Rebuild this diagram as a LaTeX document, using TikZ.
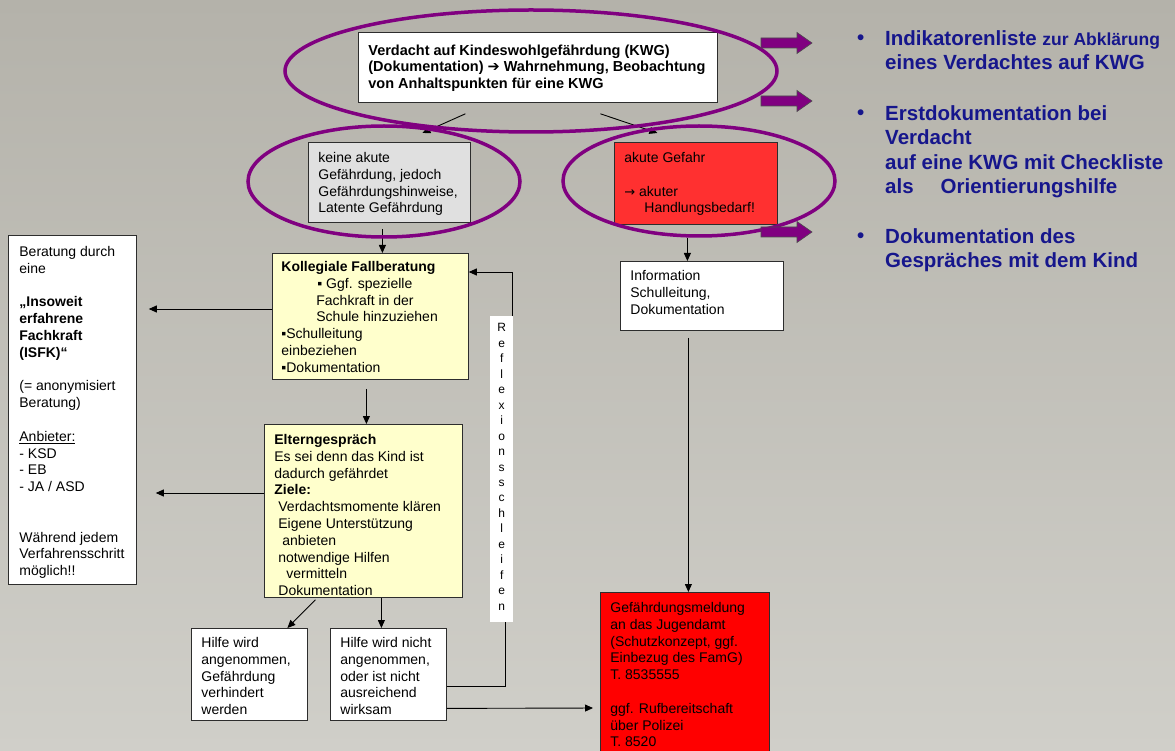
\documentclass[tikz,border=0pt]{standalone}
\usepackage{fontspec}
\setmainfont{Liberation Sans}
\newfontfamily\symfont{DejaVu Sans}
\usetikzlibrary{positioning,calc,arrows.meta}

\definecolor{kwgpurple}{RGB}{128,0,128}
\definecolor{kwgblue}{RGB}{22,22,140}
\definecolor{notered}{RGB}{255,48,48}
\definecolor{alarmred}{RGB}{255,0,0}
\definecolor{noteyellow}{RGB}{255,255,204}
\definecolor{notegrey}{RGB}{224,224,224}
\definecolor{bgtop}{RGB}{180,178,170}
\definecolor{bgbottom}{RGB}{208,207,201}
\definecolor{frame}{RGB}{45,45,45}

\newcommand{\bxfont}{\fontsize{14}{16.8}\selectfont}
\newcommand{\itemfont}{\bfseries\fontsize{20.5}{24.5}\selectfont}
\newcommand{\boxtxt}[5]{\parbox[c][#2pt][t]{#1pt}{\raggedright\setlength{\leftskip}{#4pt}\vspace*{#3pt}#5}}

\begin{document}
\begin{tikzpicture}[x=1pt,y=-1pt,
	box/.style={draw=frame,line width=0.8pt,anchor=north west,inner sep=0pt,font=\bxfont},
	line/.style={draw=black,line width=0.9pt},
	arr/.style={line,-{Triangle[length=8pt,width=7pt]}},
	ring/.style={draw=kwgpurple,line width=3.5pt},
	pointer/.style={fill=kwgpurple,draw=black!70,line width=0.6pt},
	item/.style={anchor=north west,inner sep=0pt,align=left,text=kwgblue,font=\itemfont},
	dot/.style={anchor=base west,inner sep=0pt,text=kwgblue,font=\itemfont}]
				\shade[top color=bgtop,bottom color=bgbottom] (0,0) rectangle (1175,751);
				\useasboundingbox (0,0) rectangle (1175,751);
				\node[box,fill=white] (kwg) at (358,32) {\boxtxt{359}{70}{12.5}{10}{\bfseries\fontsize{14.5}{16.5}\selectfont Verdacht auf Kindeswohlgefährdung (KWG)\\(Dokumentation) {\symfont ➔} Wahrnehmung, Beobachtung\\von Anhaltspunkten für eine KWG}};
				\node[box,fill=notegrey] (keine) at (308,142) {\boxtxt{162}{80}{10}{10}{keine akute\\Gefährdung, jedoch\\Gefährdungshinweise,\\Latente Gefährdung}};
				\node[box,fill=notered] (akute) at (614,142) {\boxtxt{163}{82}{10}{10}{akute Gefahr\\[16.8pt]{\symfont\fontsize{13}{16.8}\selectfont →} akuter\\\hspace*{20pt}Handlungsbedarf!}};
				\node[box,fill=noteyellow] (koll) at (272,253) {\boxtxt{196}{126}{8}{9}{\textbf{Kollegiale Fallberatung}\\\hspace*{36pt}▪ Ggf. spezielle\\\hspace*{35pt}Fachkraft in der\\\hspace*{35pt}Schule hinzuziehen\\▪Schulleitung\\einbeziehen\\▪Dokumentation}};
				\node[box,fill=noteyellow] (eltern) at (264,424) {\boxtxt{198}{173}{10}{10}{\textbf{Elterngespräch}\\Es sei denn das Kind ist\\dadurch gefährdet\\\textbf{Ziele:}\\\hspace*{4pt}Verdachtsmomente klären\\\hspace*{4pt}Eigene Unterstützung\\\hspace*{8pt}anbieten\\\hspace*{4pt}notwendige Hilfen\\\hspace*{12pt}vermitteln\\\hspace*{4pt}Dokumentation}};
				\node[box,fill=white] (beratung) at (8,235) {\boxtxt{128}{349}{11}{11}{Beratung durch\\eine\\[16.8pt]{\bfseries „Insoweit\\erfahrene\\Fachkraft\\(ISFK)“}\\[16.8pt](= anonymisiert\\Beratung)\\[16.8pt]\underline{Anbieter:}\\- KSD\\- EB\\- JA / ASD\\[33.6pt]Während jedem\\Verfahrensschritt\\möglich!!}};
				\node[box,fill=white] (ang) at (191,628) {\boxtxt{116}{92}{9}{10}{Hilfe wird\\angenommen,\\Gefährdung\\verhindert\\werden}};
				\node[box,fill=white] (nicht) at (330,628) {\boxtxt{116}{92}{9}{10}{Hilfe wird nicht\\angenommen,\\oder ist nicht\\ausreichend\\wirksam}};
				\node[box,fill=white] (info) at (620,261) {\boxtxt{163}{69}{9}{10}{Information\\Schulleitung,\\Dokumentation}};
				\node[box,fill=alarmred] (gef) at (600,592) {\boxtxt{169}{170}{10}{10}{Gefährdungsmeldung\\an das Jugendamt\\(Schutzkonzept, ggf.\\Einbezug des FamG)\\T. 8535555\\[16.8pt]ggf. Rufbereitschaft\\über Polizei\\T. 8520}};
				\node[anchor=north west,inner sep=0pt,fill=white] (refl) at (490,316) {\parbox[c][306pt][t]{23pt}{\centering\fontsize{12}{15.45}\selectfont\vspace*{7.5pt}R\\e\\f\\l\\e\\x\\i\\o\\n\\s\\s\\c\\h\\l\\e\\i\\f\\e\\n}};
				\draw[arr] ([xshift=-72.5pt,yshift=-11pt]kwg.south) -- ([xshift=33pt,yshift=9pt]keine.north);
				\draw[arr] ([xshift=62.5pt,yshift=-11pt]kwg.south) -- ([xshift=-38.5pt,yshift=9pt]akute.north);
				\draw[arr] ([xshift=-7pt,yshift=-6pt]keine.south) -- ([xshift=-7pt]keine.south |- koll.north);
				\draw[arr] ([xshift=-4pt,yshift=-9pt]koll.south) -- ([xshift=-4pt]koll.south |- eltern.north);
				\draw[arr] ([xshift=-8.5pt,yshift=-13pt]akute.south) -- ([xshift=-8.5pt]akute.south |- info.north);
				\draw[arr] ([xshift=-13.5pt,yshift=-7pt]info.south) -- ([xshift=-13.5pt]info.south |- gef.north);
				\draw[arr] ([xshift=-48pt,yshift=-2pt]eltern.south) -- ([xshift=38pt]ang.north);
				\draw[arr] ([xshift=18pt]eltern.south) -- ([xshift=18pt]eltern.south |- nicht.north);
				\draw[arr,shorten >=12pt] (koll.west |- 0,309) -- (beratung.east |- 0,309);
				\draw[arr,shorten >=19pt] (eltern.west |- 0,493) -- (beratung.east |- 0,493);
				\draw[arr] ([xshift=-1pt]refl.north east) |- ([yshift=-19pt]koll.north east);
				\draw[line] ([yshift=-12pt]nicht.east) -| ([xshift=3.5pt]refl.south);
				\draw[arr,shorten >=7pt] ([yshift=-34pt]nicht.east) -- (gef.west |- 0,708);
				\draw[ring] (531,71) ellipse [x radius=246,y radius=61];
				\draw[ring] (384,181.5) ellipse [x radius=136,y radius=55.5];
				\draw[ring] (699,181) ellipse [x radius=136,y radius=55];
				\foreach \py in {43,101,232}
					\filldraw[pointer] (761,\py-5) -- (797,\py-5) -- (797,\py-10.5) -- (812,\py) -- (797,\py+10.5) -- (797,\py+5) -- (761,\py+5) -- cycle;
				\node[dot] (dot1) at (857,45) {•};
				\node[dot] (dot2) at (857,120) {•};
				\node[dot] (dot3) at (857,243) {•};
				\node[item] (ind) at (885,30) {Indikatorenliste {\fontsize{17.5}{24.5}\selectfont zur Abklärung}\\eines Verdachtes auf KWG};
				\node[item] (erst) at (885,105) {Erstdokumentation bei\\Verdacht\\auf eine KWG mit Checkliste\\als\hspace{27pt}Orientierungshilfe};
				\node[item] (gespr) at (885,228) {Dokumentation des\\Gespräches mit dem Kind};
\end{tikzpicture}
\end{document}
